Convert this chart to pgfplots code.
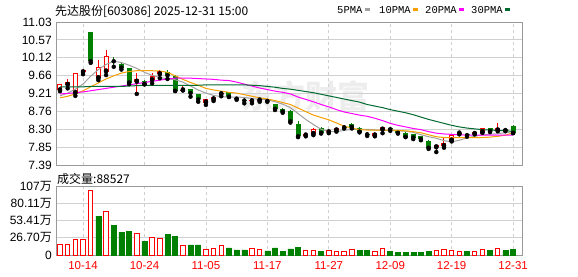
\documentclass[border=0pt]{standalone}
\usepackage{fontspec}
\setmainfont{Liberation Sans}
\newfontfamily\cjk{Noto Sans CJK SC}
\newfontfamily\mono{Liberation Mono}
\usepackage{pgfplots}
\usepackage{pgfplotstable}
\pgfplotsset{compat=1.18}

\definecolor{cred}{HTML}{FF0000}
\definecolor{cgreen}{HTML}{008000}
\definecolor{maf}{HTML}{A0A0A0}
\definecolor{mat}{HTML}{F5A000}
\definecolor{matw}{HTML}{FF00FF}
\definecolor{math}{HTML}{006A30}
\definecolor{gridc}{HTML}{D0D0D0}
\definecolor{framec}{HTML}{999999}

% red (close >= open) candles: index open high low close
\pgfplotstableread{
i o h l c
0 9.29 9.46 9.27 9.44
1 9.43 9.58 9.34 9.50
2 9.22 9.73 9.15 9.72
3 9.75 9.84 9.70 9.80
5 9.60 10.06 9.55 9.88
6 9.77 10.32 9.68 10.16
10 9.51 9.74 9.20 9.58
12 9.55 9.72 9.47 9.66
13 9.70 9.80 9.60 9.78
16 9.29 9.43 9.29 9.31
19 8.98 9.07 8.92 9.06
20 9.06 9.17 9.02 9.13
21 9.19 9.26 9.14 9.22
25 9.01 9.08 8.96 9.04
26 9.03 9.08 9.00 9.06
32 8.14 8.19 8.12 8.17
33 8.18 8.32 8.15 8.31
35 8.22 8.31 8.20 8.29
36 8.27 8.34 8.24 8.33
41 8.14 8.23 8.12 8.21
42 8.29 8.37 8.20 8.35
49 7.84 7.91 7.72 7.90
50 7.87 8.07 7.83 7.96
51 8.01 8.17 7.99 8.16
52 8.19 8.22 8.17 8.21
54 8.18 8.24 8.17 8.22
55 8.22 8.34 8.21 8.33
57 8.27 8.45 8.25 8.33
}\upk

% green (close < open) candles
\pgfplotstableread{
i o h l c
4 10.77 10.78 9.99 10.03
7 10.05 10.13 9.89 10.03
8 9.96 9.98 9.82 9.87
9 9.85 9.87 9.45 9.49
11 9.53 9.55 9.44 9.45
14 9.77 9.80 9.58 9.67
15 9.66 9.68 9.27 9.28
17 9.32 9.33 9.13 9.22
18 9.19 9.20 9.00 9.06
22 9.24 9.25 9.12 9.13
23 9.10 9.12 9.05 9.08
24 9.05 9.10 8.96 9.03
27 9.05 9.07 9.00 9.02
28 8.94 8.95 8.79 8.82
29 8.82 8.85 8.72 8.75
30 8.77 8.80 8.47 8.50
31 8.43 8.50 8.10 8.12
34 8.33 8.36 8.19 8.21
37 8.37 8.40 8.32 8.35
38 8.43 8.46 8.32 8.36
39 8.33 8.36 8.22 8.24
40 8.19 8.23 8.13 8.17
43 8.32 8.35 8.26 8.30
44 8.25 8.27 8.19 8.21
45 8.20 8.22 8.10 8.11
46 8.17 8.19 8.05 8.09
47 8.12 8.13 8.02 8.05
48 8.01 8.02 7.80 7.83
53 8.17 8.19 8.11 8.15
56 8.33 8.34 8.23 8.25
58 8.30 8.33 8.25 8.28
59 8.38 8.40 8.20 8.21
}\dnk

% moving averages
\pgfplotstableread{
i ma5 ma10 ma20 ma30
0 9.15 9.10 9.20 9.38
1 9.22 9.14 9.21 9.38
2 9.32 9.20 9.23 9.38
3 9.45 9.28 9.25 9.38
4 9.65 9.38 9.28 9.39
5 9.82 9.48 9.31 9.39
6 9.95 9.58 9.34 9.39
7 10.03 9.66 9.37 9.39
8 10.00 9.73 9.40 9.39
9 9.93 9.77 9.43 9.40
10 9.85 9.79 9.46 9.41
11 9.75 9.79 9.49 9.42
12 9.67 9.79 9.52 9.42
13 9.62 9.78 9.55 9.42
14 9.58 9.75 9.58 9.42
15 9.56 9.66 9.60 9.42
16 9.50 9.57 9.60 9.42
17 9.40 9.49 9.60 9.42
18 9.30 9.42 9.59 9.42
19 9.22 9.34 9.58 9.43
20 9.16 9.30 9.57 9.43
21 9.13 9.27 9.55 9.43
22 9.12 9.24 9.54 9.43
23 9.12 9.22 9.50 9.43
24 9.11 9.18 9.45 9.43
25 9.08 9.14 9.40 9.42
26 9.06 9.10 9.35 9.41
27 9.05 9.07 9.31 9.39
28 9.00 9.03 9.27 9.37
29 8.94 8.98 9.24 9.34
30 8.85 8.93 9.20 9.32
31 8.70 8.84 9.12 9.29
32 8.55 8.75 9.06 9.26
33 8.42 8.66 9.00 9.23
34 8.30 8.60 8.93 9.19
35 8.24 8.54 8.87 9.15
36 8.24 8.46 8.80 9.11
37 8.27 8.38 8.74 9.07
38 8.30 8.33 8.70 9.03
39 8.30 8.29 8.66 8.99
40 8.30 8.28 8.63 8.93
41 8.28 8.28 8.58 8.89
42 8.27 8.28 8.52 8.85
43 8.27 8.28 8.45 8.80
44 8.26 8.27 8.40 8.76
45 8.25 8.26 8.36 8.72
46 8.22 8.24 8.32 8.67
47 8.16 8.21 8.29 8.61
48 8.11 8.16 8.24 8.55
49 8.07 8.11 8.20 8.50
50 8.01 8.09 8.18 8.45
51 7.98 8.09 8.17 8.40
52 8.02 8.09 8.16 8.36
53 8.08 8.09 8.15 8.33
54 8.12 8.09 8.15 8.31
55 8.16 8.09 8.15 8.29
56 8.17 8.10 8.15 8.28
57 8.19 8.12 8.15 8.27
58 8.21 8.15 8.15 8.26
59 8.24 8.21 8.15 8.25
}\mas

% volume, in 10^4 shares (up vs previous close / down)
\pgfplotstableread{
i v
0 15.7
1 16.8
2 24.7
3 23.6
4 100.7
6 67.1
10 33.0
12 27.8
13 25.2
16 14.2
19 7.9
20 10.5
21 15.2
25 10.0
26 7.9
32 6.8
33 6.8
35 6.8
36 5.2
37 5.2
38 8.4
41 5.2
42 9.4
49 6.8
50 8.4
51 6.8
52 5.2
54 5.2
55 8.4
57 10.0
}\upv

\pgfplotstableread{
i v
5 60.3
7 45.6
8 35.1
9 36.2
11 21.0
14 31.5
15 28.8
17 15.7
18 15.7
22 11.0
23 7.9
24 7.9
27 6.3
28 11.0
29 5.2
30 9.4
31 11.5
34 5.2
39 6.8
40 6.8
43 5.2
44 3.7
45 3.7
46 3.7
47 3.7
48 5.2
53 5.2
56 6.8
58 6.8
59 8.85
}\dnv

\pgfplotsset{
  kframe/.style={
    scale only axis, width=466pt,
    xmin=-0.52, xmax=60.16,
    axis line style={framec, line width=0.8pt},
    xtick={3,11,19,27,35,43,51,59},
    major tick length=0pt,
    xmajorgrids, ymajorgrids,
    x grid style={gridc, dashed, line width=0.8pt},
    y grid style={gridc, line width=0.8pt},
    yticklabel style={font=\fontsize{12}{12}\selectfont, inner sep=0pt, xshift=-4pt},
  },
  wick/.style={only marks, mark=none, forget plot,
    error bars/.cd, y dir=plus, y explicit, error mark=none,
    error bar style={#1, line width=1pt}},
  body/.style 2 args={only marks, mark=none, forget plot,
    error bars/.cd, y dir=plus, y explicit, error mark=none,
    error bar style={#1, line width=#2}},
}

\begin{document}
\begin{tikzpicture}[x=1pt,y=1pt]
\path[use as bounding box] (0,0) rectangle (578,-276);
\node[text=black!7, font=\cjk\bfseries\fontsize{32}{32}\selectfont, inner sep=0pt] at (305,-96) {东方财富};

\node[anchor=base west, inner sep=0pt, font=\cjk\fontsize{12}{12}\selectfont] at (55,-15) {先达股份[603086] 2025-12-31 15:00};

\node[anchor=base west, inner sep=0pt, font=\mono\fontsize{10.5}{10.5}\selectfont] at (337,-13) {5PMA};
\fill[maf] (365,-7.5) rectangle (370,-10.5);
\node[anchor=base west, inner sep=0pt, font=\mono\fontsize{10.5}{10.5}\selectfont] at (379,-13) {10PMA};
\fill[mat] (413,-7.5) rectangle (418,-10.5);
\node[anchor=base west, inner sep=0pt, font=\mono\fontsize{10.5}{10.5}\selectfont] at (425,-13) {20PMA};
\fill[matw] (459,-7.5) rectangle (464,-10.5);
\node[anchor=base west, inner sep=0pt, font=\mono\fontsize{10.5}{10.5}\selectfont] at (471,-13) {30PMA};
\fill[math] (505,-7.5) rectangle (510,-10.5);

\begin{axis}[kframe,
  at={(56pt,-165pt)}, anchor=south west, height=143pt,
  ymin=7.39, ymax=11.03,
  xticklabels={},
  ytick={7.39,7.845,8.30,8.755,9.21,9.665,10.12,10.575,11.03},
  yticklabels={7.39,7.85,8.30,8.76,9.21,9.66,10.12,10.57,11.03},
]
% red candles
\addplot[wick=cred] table[x=i, y=l, y error plus expr=\thisrow{h}-\thisrow{l}] {\upk};
\addplot[body={cred}{5pt}] table[x=i, y=o, y error plus expr=\thisrow{c}-\thisrow{o}] {\upk};
\addplot[body={white}{3pt}] table[x=i, y expr=\thisrow{o}+0.0254, y error plus expr={max(0,\thisrow{c}-\thisrow{o}-0.0508)}] {\upk};
% green candles
\addplot[wick=cgreen] table[x=i, y=l, y error plus expr=\thisrow{h}-\thisrow{l}] {\dnk};
\addplot[body={cgreen}{5pt}] table[x=i, y=c, y error plus expr=\thisrow{o}-\thisrow{c}] {\dnk};
% moving averages
\addplot[maf, line width=1pt, mark=none] table[x=i, y=ma5] {\mas};
\addplot[mat, line width=1pt, mark=none] table[x=i, y=ma10] {\mas};
\addplot[matw, line width=1pt, mark=none] table[x=i, y=ma20] {\mas};
\addplot[math, line width=1pt, mark=none] table[x=i, y=ma30] {\mas};
\end{axis}

\node[anchor=base west, inner sep=0pt, font=\cjk\fontsize{12}{12}\selectfont] at (57,-183) {成交量:88527};

\begin{axis}[kframe,
  at={(56pt,-255pt)}, anchor=south west, height=69pt,
  ymin=0, ymax=107,
  xticklabels={10-14,10-24,11-05,11-17,11-27,12-09,12-19,12-31},
  xticklabel style={text=cred, font=\fontsize{11.5}{12}\selectfont, inner sep=0pt, yshift=-6pt},
  ytick={0,26.70,53.41,80.11,107},
  yticklabels={0,{26.70{\cjk 万}},{53.41{\cjk 万}},{80.11{\cjk 万}},{107{\cjk 万}}},
]
\addplot[ybar, bar width=4.5pt, bar shift=0pt, draw=cred, fill=white, line width=1pt] table[x=i, y=v] {\upv};
\addplot[ybar, bar width=5pt, bar shift=0pt, draw=cgreen, fill=cgreen, line width=0.5pt] table[x=i, y=v] {\dnv};
\end{axis}
\end{tikzpicture}
\end{document}
